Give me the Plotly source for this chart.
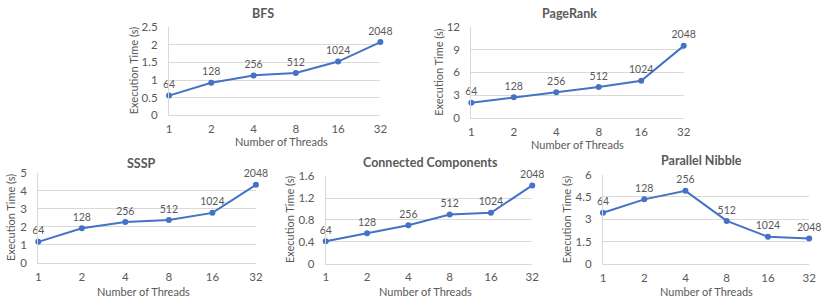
import plotly.graph_objects as go

W, H = 830, 305

threads = ["1", "2", "4", "8", "16", "32"]
labels = ["64", "128", "256", "512", "1024", "2048"]

bfs = [0.56, 0.92, 1.13, 1.20, 1.52, 2.07]
pagerank = [2.0, 2.73, 3.4, 4.07, 4.9, 9.5]
sssp = [1.17, 1.93, 2.27, 2.38, 2.78, 4.34]
cc = [0.41, 0.555, 0.70, 0.90, 0.93, 1.43]
nibble = [3.44, 4.34, 4.91, 2.90, 1.84, 1.73]

titles = ["BFS", "PageRank", "SSSP", "Connected Components", "Parallel Nibble"]
series = [bfs, pagerank, sssp, cc, nibble]
ymax = [2.5, 12, 5, 1.6, 6]
ydtick = [0.5, 3, 1, 0.4, 1.5]

# pixel geometry: (left, right, top, bottom)
boxes = [
    (168, 382, 20.7, 113.3),
    (474, 689, 20.7, 116),
    (35.7, 256, 173.3, 267.3),
    (326.7, 535.7, 176.7, 268),
    (607.3, 816, 175, 268.7),
]
title_pos = [(263, 7), (573, 7), (140, 163), (433, 162), (707, 160)]
xtitle_pos = [(282, 141), (582, 144), (142, 297), (428, 297), (712, 297)]
ytitle_x = [131.7, 440.7, 8.3, 290.7, 570.7]

BLUE = "#4472C4"
GRID = "#D9D9D9"
TXT = "#595959"
FONT = "Lato, Open Sans, sans-serif"

def px(x):
    return x / W

def py(y):
    return 1 - y / H

fig = go.Figure()
annotations = []
layout = {}
for i, (t, s) in enumerate(zip(titles, series)):
    n = "" if i == 0 else str(i + 1)
    l, r, tp, bt = boxes[i]
    fig.add_trace(go.Scatter(
        x=threads, y=s, text=labels, mode="lines+markers+text",
        textposition="top center", cliponaxis=False,
        textfont=dict(size=10.5, color=TXT, family=FONT),
        line=dict(color=BLUE, width=2), marker=dict(color=BLUE, size=6),
        xaxis="x" + n, yaxis="y" + n, showlegend=False, hoverinfo="skip"))
    layout["xaxis" + n] = dict(
        domain=[px(l), px(r)], anchor="y" + n, type="category",
        range=[0, 5], showgrid=False, showline=True, linecolor=GRID,
        linewidth=1, ticks="", ticklabelstandoff=3,
        tickfont=dict(size=11.5, color=TXT, family=FONT), zeroline=False)
    layout["yaxis" + n] = dict(
        domain=[py(bt), py(tp)], anchor="x" + n, range=[0, ymax[i]],
        dtick=ydtick[i], tick0=0, showgrid=True, gridcolor=GRID,
        showline=True, linecolor=GRID, ticks="", ticklabelstandoff=8,
        tickfont=dict(size=11.5, color=TXT, family=FONT), zeroline=False)
    tx, ty = title_pos[i]
    annotations.append(dict(text="<b>" + t + "</b>", x=px(tx), y=py(ty),
                            xref="paper", yref="paper", showarrow=False,
                            xanchor="center", yanchor="middle",
                            font=dict(size=12.5, color=TXT, family=FONT)))
    xx, xy = xtitle_pos[i]
    annotations.append(dict(text="Number of Threads", x=px(xx), y=py(xy),
                            xref="paper", yref="paper", showarrow=False,
                            xanchor="center", yanchor="middle",
                            font=dict(size=11, color=TXT, family=FONT)))
    annotations.append(dict(text="Execution Time (s)", x=px(ytitle_x[i]),
                            y=py((tp + bt) / 2), xref="paper", yref="paper",
                            showarrow=False, textangle=-90,
                            xanchor="center", yanchor="middle",
                            font=dict(size=11, color=TXT, family=FONT)))

fig.update_layout(width=W, height=H, margin=dict(l=0, r=0, t=0, b=0),
                  paper_bgcolor="white", plot_bgcolor="white",
                  annotations=annotations, **layout)
fig.write_html("out.html", config={"displayModeBar": False},
               post_script="document.body.style.margin='0';")
